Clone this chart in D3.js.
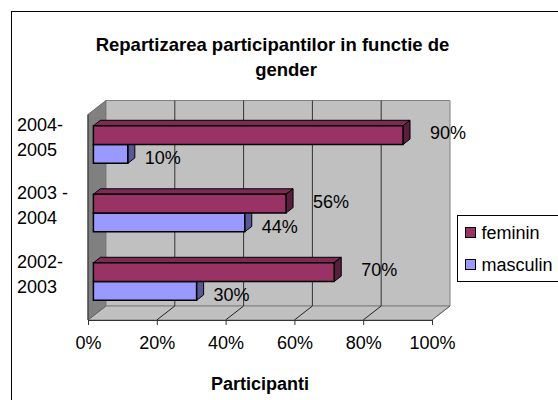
<!DOCTYPE html>
<html>
<head>
<meta charset="utf-8">
<script src="https://cdn.jsdelivr.net/npm/d3@7"></script>
<style>
  body { margin: 0; background: #fff; }
  text { font-family: "Liberation Sans", Arial, sans-serif; }
</style>
</head>
<body>
<script>
// data
const categories = ["2004-2005", "2003-2004", "2002-2003"]
const categoryLines = [["2004-", "2005"], ["2003 -", "2004"], ["2002-", "2003"]]
const series = ["feminin", "masculin"]
const feminin = [90, 56, 70]
const masculin = [10, 44, 30]
const ticks = [0, 20, 40, 60, 80, 100]

const w = 558
const h = 400
const DX = 18, DY = 14        // depth of the 3d box
const z0 = 0.3, z1 = 0.69     // depth of the bars
const yTop = 114.5, yBot = 320

const colors = {
  feminin:  { front: "#993366", top: "#7d2a54", side: "#5a1e3d" },
  masculin: { front: "#9999ff", top: "#7a7acc", side: "#585899" }
}
const values = { feminin: feminin, masculin: masculin }

const xScale = d3.scaleLinear().domain([0, 100]).range([88, 432])
const yScale = d3.scaleBand().domain(categories).range([yTop, yBot])
const cluster = 37.6
const y1 = d3.scaleBand().domain(series)
             .range([(yScale.bandwidth() - cluster) / 2, (yScale.bandwidth() + cluster) / 2])

const proj = (v, y, z) => [xScale(v) + z * DX, y - z * DY]
const pts = (arr) => arr.map(p => p.join(",")).join(" ")

const svg = d3.select("body")
              .append("svg")
              .attr("width", w)
              .attr("height", h)

// outer border (runs off the picture)
svg.append("rect")
   .attr("x", 11.5).attr("y", 11.5)
   .attr("width", 600).attr("height", 500)
   .attr("fill", "none").attr("stroke", "#000")

// title
svg.append("text")
   .attr("x", 272.5).attr("y", 50.5)
   .attr("text-anchor", "middle")
   .style("font-size", "18.5px").style("font-weight", "bold")
   .text("Repartizarea participantilor in functie de")
svg.append("text")
   .attr("x", 286).attr("y", 75.5)
   .attr("text-anchor", "middle")
   .style("font-size", "18.5px").style("font-weight", "bold")
   .text("gender")

// walls
svg.append("polygon")
   .attr("points", pts([proj(0, yTop, 0), proj(0, yTop, 1), proj(0, yBot, 1), proj(0, yBot, 0)]))
   .attr("fill", "#808080").attr("stroke", "#666")
svg.append("polygon")
   .attr("points", pts([proj(0, yTop, 1), proj(100, yTop, 1), proj(100, yBot, 1), proj(0, yBot, 1)]))
   .attr("fill", "#c0c0c0").attr("stroke", "#808080")
svg.append("polygon")
   .attr("points", pts([proj(0, yBot, 0), proj(100, yBot, 0), proj(100, yBot, 1), proj(0, yBot, 1)]))
   .attr("fill", "#c0c0c0").attr("stroke", "#808080")

// gridlines on back wall and floor
const inner = ticks.filter(t => t > 0 && t < 100)
svg.selectAll(".grid")
   .data(inner)
   .enter()
   .append("line")
   .attr("class", "grid")
   .attr("x1", d => proj(d, yTop, 1)[0]).attr("y1", d => proj(d, yTop, 1)[1])
   .attr("x2", d => proj(d, yBot, 1)[0]).attr("y2", d => proj(d, yBot, 1)[1])
   .attr("stroke", "#333")
svg.selectAll(".floorline")
   .data(ticks)
   .enter()
   .append("line")
   .attr("class", "floorline")
   .attr("x1", d => proj(d, yBot, 0)[0]).attr("y1", d => proj(d, yBot, 0)[1])
   .attr("x2", d => proj(d, yBot, 1)[0]).attr("y2", d => proj(d, yBot, 1)[1])
   .attr("stroke", d => d == 0 || d == 100 ? "#666" : "#222")

// front-left edge
svg.append("line")
   .attr("x1", xScale(0)).attr("y1", yTop)
   .attr("x2", xScale(0)).attr("y2", yBot)
   .attr("stroke", "#333")

// x axis
const xAxis = d3.axisBottom(xScale)
                .tickValues(ticks)
                .tickFormat(d => d + "%")
                .tickSize(5)
                .tickPadding(11)
const gx = svg.append("g")
   .attr("id", "x-axis")
   .attr("transform", "translate(0, " + yBot + ")")
   .call(xAxis)
gx.select(".domain").attr("stroke", "#333")
gx.selectAll(".tick line").attr("stroke", "#333")
gx.selectAll("text").style("font-size", "18px").attr("fill", "#000")
  .style("font-family", "'Liberation Sans', Arial, sans-serif")

svg.append("text")
   .attr("x", 260).attr("y", 390)
   .attr("text-anchor", "middle")
   .style("font-size", "18px").style("font-weight", "bold")
   .text("Participanti")

// category labels
categories.forEach((c, i) => {
  const cy = yScale(c) + yScale.bandwidth() / 2 - z0 * DY
  svg.append("text")
     .attr("x", 17).attr("y", cy - 14)
     .style("font-size", "18px")
     .text(categoryLines[i][0])
  svg.append("text")
     .attr("x", 17).attr("y", cy + 11)
     .style("font-size", "18px")
     .text(categoryLines[i][1])
})

// bars (masculin first so feminin covers its top face)
const bars = []
categories.forEach((c, i) => {
  ["masculin", "feminin"].forEach(s => {
    bars.push({ cat: c, s: s, v: values[s][i] })
  })
})

const g = svg.selectAll(".bar")
             .data(bars)
             .enter()
             .append("g")
             .attr("class", "bar")
g.each(function (d) {
  const sel = d3.select(this)
  const yt = yScale(d.cat) + y1(d.s)
  const yb = yt + y1.bandwidth()
  sel.append("polygon")
     .attr("points", pts([proj(0, yt, z0), proj(d.v, yt, z0), proj(d.v, yt, z1), proj(0, yt, z1)]))
     .attr("fill", colors[d.s].top).attr("stroke", "#000").attr("stroke-linejoin", "round")
  sel.append("polygon")
     .attr("points", pts([proj(d.v, yt, z0), proj(d.v, yt, z1), proj(d.v, yb, z1), proj(d.v, yb, z0)]))
     .attr("fill", colors[d.s].side).attr("stroke", "#000").attr("stroke-linejoin", "round")
  sel.append("polygon")
     .attr("points", pts([proj(0, yt, z0), proj(d.v, yt, z0), proj(d.v, yb, z0), proj(0, yb, z0)]))
     .attr("fill", colors[d.s].front).attr("stroke", "#000").attr("stroke-width", 1.5)
})

// value labels
svg.selectAll(".label")
   .data(bars)
   .enter()
   .append("text")
   .attr("class", "label")
   .attr("x", d => proj(d.v, 0, z0)[0] + (d.s == "feminin" ? 27 : 17))
   .attr("y", d => yScale(d.cat) + y1(d.s) + y1.bandwidth() / 2 - z0 * DY + (d.s == "feminin" ? -2 : 4))
   .attr("dy", "0.35em")
   .style("font-size", "18px")
   .text(d => d.v + "%")

// legend
const legend = svg.append("g").attr("transform", "translate(457.5, 215.5)")
legend.append("rect")
      .attr("width", 120).attr("height", 66)
      .attr("fill", "#fff").attr("stroke", "#000")
series.forEach((s, i) => {
  legend.append("rect")
        .attr("x", 8).attr("y", 12 + i * 32)
        .attr("width", 10).attr("height", 10)
        .attr("fill", colors[s].front).attr("stroke", "#000")
  legend.append("text")
        .attr("x", 24).attr("y", 23.5 + i * 32)
        .style("font-size", "18px")
        .text(s)
})
</script>
</body>
</html>
